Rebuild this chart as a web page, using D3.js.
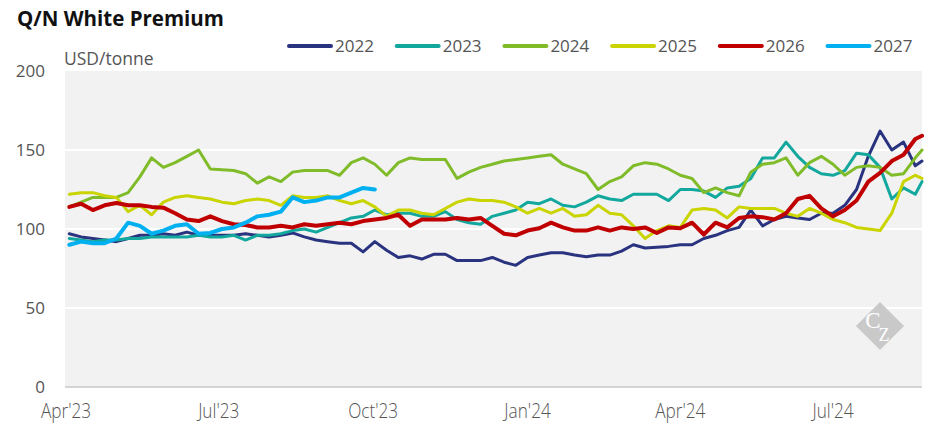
<!DOCTYPE html>
<html>
<head>
<script src="https://d3js.org/d3.v7.min.js" charset="utf-8"></script>
<style>
    body { margin: 0; background: #fff; }
    text { font-family: "Open Sans", sans-serif; }
</style>
</head>
<body>
<script>
    // weekly closes, plus the last day shown
    var dates = ["2023-04-03","2023-04-10","2023-04-17","2023-04-24","2023-05-01","2023-05-08","2023-05-15","2023-05-22","2023-05-29",
        "2023-06-05","2023-06-12","2023-06-19","2023-06-26","2023-07-03","2023-07-10","2023-07-17","2023-07-24","2023-07-31",
        "2023-08-07","2023-08-14","2023-08-21","2023-08-28","2023-09-04","2023-09-11","2023-09-18","2023-09-25",
        "2023-10-02","2023-10-09","2023-10-16","2023-10-23","2023-10-30","2023-11-06","2023-11-13","2023-11-20","2023-11-27",
        "2023-12-04","2023-12-11","2023-12-18","2023-12-25","2024-01-01","2024-01-08","2024-01-15","2024-01-22","2024-01-29",
        "2024-02-05","2024-02-12","2024-02-19","2024-02-26","2024-03-04","2024-03-11","2024-03-18","2024-03-25",
        "2024-04-01","2024-04-08","2024-04-15","2024-04-22","2024-04-29","2024-05-06","2024-05-13","2024-05-20","2024-05-27",
        "2024-06-03","2024-06-10","2024-06-17","2024-06-24","2024-07-01","2024-07-08","2024-07-15","2024-07-22","2024-07-29",
        "2024-08-05","2024-08-12","2024-08-19","2024-08-23"];

    var q2022 = [97,95,94,93,92,94,96,96,97,96, 98,96,96,96,96,97,96,95,96,97.5, 95,93,92,91,91,85.5,92,86.5,82,83,
        81,84,84,80,80,80,82,79,77,82, 83.5,85,85,83.5,82.5,83.5,83.5,86,90,88, 88.5,89,90,90,94,96,99,101,112,102,
        106,108,107,106,110,110,115,125,146,162, 150,155,140,143];
    var q2023 = [94,93,92,93,93,94,94,95,95,95, 95,96,95,95,96,93,96,96,97,99, 100,98,101,104,107,108,112,109,110,110,
        108,108,111,106,104,103,108,110,112,117, 116,119,115,114,117,121,119,118,122,122, 122,118,125,125,124,120,126,127,132,145,
        145,155,146,139,135,134,137,148,147,139, 119,126,122,130];
    var q2024 = [114,117,120,120,120,123,133,145,139,142, 146,150,138,137.5,137,135,129,133,130,136, 137,137,137,134,142,145,141,134,142,145,
        144,144,144,132,136,139,141,143,144,145, 146,147,141,138,135,125,130,133,140,142, 141,138,134,132,123,126,123,121,136,141,
        142,145,134,142,146,141,134,139,140,139, 134,135,145,150];
    var q2025 = [122,123,123,121,120,111,115,109,117,120, 121,120,119,117,116,118,119,118,115,121, 120,120,121,118,116,118,114,108,112,112,
        110,109,113,117,119,118,118,117,114,110, 113,110,113,108,109,115,110,109,102,94, 99,102,101,112,113,112,107,114,113,113,
        113,110,108,113,110,106,104,101,100,99, 110,130,134,132];
    var q2026 = [114,116,112,115,116.5,115,115,114,113.5,110, 106,105,108,105,103,102.5,101,101,102,101, 103,102,103,104,103,105,106,107,109,102,
        106,106,106,107,106,107,102,97,96,99, 100.5,104,101,99,99,101,99,101,100,101, 97.5,101,100.5,104,96.5,104,101,107,108,107.5,
        106,110,119,121,113,108,112,118,130,135.5, 143,147,157,159];
    var q2027 = [90,92,91,91,94,104,102,97,99,102, 103,97,97.5,100,101,104,108,109,111,120, 117,118,120,120,123,126,125];

    var seriesNames = ["2022", "2023", "2024", "2025", "2026", "2027"];
    var seriesValues = [q2022, q2023, q2024, q2025, q2026, q2027];
    var colors = ["#29337f", "#13a89e", "#80bc2a", "#c9d400", "#c00000", "#00b0f0"];
    var widths = [3, 3, 3, 3, 4, 4];

    var yTicks = [0, 50, 100, 150, 200];
    var xTicks = ["2023-04-01", "2023-07-01", "2023-10-01", "2024-01-01", "2024-04-01", "2024-07-01"];
    var xTickLabels = ["Apr'23", "Jul'23", "Oct'23", "Jan'24", "Apr'24", "Jul'24"];

    var w = 945, h = 443;
    var parse = d3.timeParse("%Y-%m-%d");

    var svg = d3.select("body").append("svg")
        .attr("width", w)
        .attr("height", h);

    var x = d3.scaleTime()
        .domain([parse("2023-04-01"), parse("2024-08-23")])
        .range([66, 922]);
    var y = d3.scaleLinear()
        .domain([0, 200])
        .range([387, 71]);

    // plot background
    svg.append("rect")
        .attr("x", 65).attr("y", y(200))
        .attr("width", 922 - 65).attr("height", y(0) - y(200))
        .attr("fill", "#f2f2f2");

    // grid
    svg.selectAll("line.grid")
        .data(yTicks.filter(function(d) { return d > 0 && d < 200; }))
        .enter().append("line")
        .attr("class", "grid")
        .attr("x1", 65).attr("x2", 922)
        .attr("y1", function(d) { return y(d); })
        .attr("y2", function(d) { return y(d); })
        .attr("stroke", "#fff")
        .attr("stroke-width", 2);

    svg.append("line")
        .attr("x1", 65).attr("x2", 922)
        .attr("y1", y(0)).attr("y2", y(0))
        .attr("stroke", "#d4d4d4")
        .attr("stroke-width", 2);

    // watermark
    var wm = svg.append("g").attr("transform", "translate(880,326)");
    wm.append("rect")
        .attr("x", -17).attr("y", -17).attr("width", 34).attr("height", 34)
        .attr("transform", "rotate(45)")
        .attr("fill", "#c9c9c9");
    wm.append("text").text("C")
        .attr("x", -7).attr("y", 2)
        .attr("text-anchor", "middle")
        .style("font-family", "Liberation Serif, serif")
        .style("font-size", "23px")
        .attr("fill", "#fff");
    wm.append("text").text("Z")
        .attr("x", 4).attr("y", 15)
        .attr("text-anchor", "middle")
        .style("font-family", "Liberation Serif, serif")
        .style("font-size", "18px")
        .attr("fill", "#fff");

    // y axis labels
    svg.selectAll("text.ytick")
        .data(yTicks)
        .enter().append("text")
        .attr("class", "ytick")
        .attr("x", 45)
        .attr("y", function(d) { return y(d) + 6; })
        .attr("text-anchor", "end")
        .attr("fill", "#555")
        .style("font-size", "17px")
        .text(function(d) { return d; });

    // x axis labels (condensed look)
    svg.selectAll("text.xtick")
        .data(xTicks)
        .enter().append("text")
        .attr("class", "xtick")
        .attr("transform", function(d) { return "translate(" + x(parse(d)) + ",418) scale(0.86,1)"; })
        .attr("text-anchor", "middle")
        .attr("fill", "#555")
        .style("font-size", "20px")
        .style("font-weight", "300")
        .text(function(d, i) { return xTickLabels[i]; });

    // lines
    var line = d3.line()
        .x(function(d) { return x(d[0]); })
        .y(function(d) { return y(d[1]); });

    seriesValues.forEach(function(vals, k) {
        var pts = vals.map(function(v, i) { return [parse(dates[i]), v]; });
        svg.append("path")
            .attr("d", line(pts))
            .attr("fill", "none")
            .attr("stroke", colors[k])
            .attr("stroke-width", widths[k])
            .attr("stroke-linejoin", "round")
            .attr("stroke-linecap", "round");
    });

    // title and unit
    svg.append("text")
        .attr("x", 17).attr("y", 26)
        .style("font-size", "20.5px")
        .style("font-weight", "bold")
        .attr("fill", "#111")
        .text("Q/N White Premium");

    svg.append("text")
        .attr("x", 64).attr("y", 65)
        .style("font-size", "17.5px")
        .attr("fill", "#555")
        .text("USD/tonne");

    // legend
    var legend = svg.selectAll("g.legend")
        .data(seriesNames)
        .enter().append("g")
        .attr("class", "legend")
        .attr("transform", function(d, i) { return "translate(" + (289 + i * 107.7) + ",46)"; });
    legend.append("line")
        .attr("x1", 0).attr("x2", 42)
        .attr("stroke", function(d, i) { return colors[i]; })
        .attr("stroke-width", 4)
        .attr("stroke-linecap", "round");
    legend.append("text")
        .attr("x", 46).attr("y", 6)
        .attr("fill", "#555")
        .style("font-size", "17px")
        .text(function(d) { return d; });
</script>
</body>
</html>
